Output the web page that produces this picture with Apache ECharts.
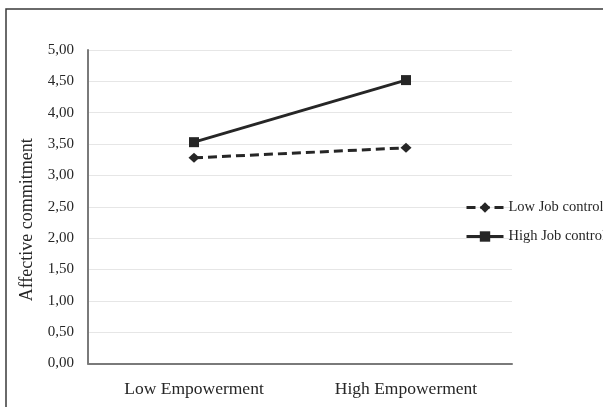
<!DOCTYPE html>
<html>
<head>
<meta charset="utf-8">
<script src="https://cdn.jsdelivr.net/npm/echarts@6/dist/echarts.min.js"></script>
<style>
html,body{margin:0;padding:0;background:#fff;}
#c{width:603px;height:407px;}
</style>
</head>
<body>
<div id="c"></div>
<script>
var categories = ['Low Empowerment', 'High Empowerment'];
var lowJobControl = [3.28, 3.44];
var highJobControl = [3.53, 4.52];
var seriesNames = ['Low Job control', 'High Job control'];
var yTitle = 'Affective commitment';

var FONT = "'Liberation Serif', 'Times New Roman', serif";
var INK = '#262626';

var chart = echarts.init(document.getElementById('c'), null, {renderer: 'canvas'});
chart.setOption({
  animation: false,
  backgroundColor: '#fff',
  graphic: [{
    type: 'rect',
    shape: {x: 6, y: 9, width: 800, height: 600},
    style: {fill: 'none', stroke: '#3a3a3a', lineWidth: 1.5},
    silent: true,
    z: -1
  }],
  grid: {left: 88, right: 91, top: 50, bottom: 43.5, containLabel: false},
  legend: {
    orient: 'vertical',
    left: 465,
    top: 200,
    padding: 0,
    itemWidth: 37,
    itemHeight: 13,
    itemGap: 14,
    textStyle: {fontFamily: FONT, fontSize: 14.5, color: INK},
    lineStyle: {width: 3},
    data: seriesNames
  },
  xAxis: {
    type: 'category',
    data: categories,
    boundaryGap: true,
    axisLine: {lineStyle: {color: '#7a7a7a', width: 2}},
    axisTick: {show: false},
    axisLabel: {fontFamily: FONT, fontSize: 17.5, color: INK, margin: 17}
  },
  yAxis: {
    type: 'value',
    min: 0,
    max: 5,
    interval: 0.5,
    name: yTitle,
    nameLocation: 'middle',
    nameGap: 52,
    nameTextStyle: {fontFamily: FONT, fontSize: 18, color: INK, padding: [0, 26, 0, 0]},
    axisLine: {show: true, lineStyle: {color: '#7a7a7a', width: 2}},
    axisTick: {show: false},
    splitLine: {lineStyle: {color: '#e6e6e6', width: 1.2}},
    axisLabel: {
      fontFamily: FONT, fontSize: 15, color: INK, margin: 14,
      formatter: function (v) { return v.toFixed(2).replace('.', ','); }
    }
  },
  series: [
    {
      name: seriesNames[0],
      type: 'line',
      data: lowJobControl,
      symbol: 'diamond',
      symbolSize: [11, 10],
      lineStyle: {color: INK, width: 3, type: [9, 5]},
      itemStyle: {color: INK}
    },
    {
      name: seriesNames[1],
      type: 'line',
      data: highJobControl,
      symbol: 'rect',
      symbolSize: 10,
      lineStyle: {color: INK, width: 3, type: 'solid'},
      itemStyle: {color: INK}
    }
  ]
});
</script>
</body>
</html>
